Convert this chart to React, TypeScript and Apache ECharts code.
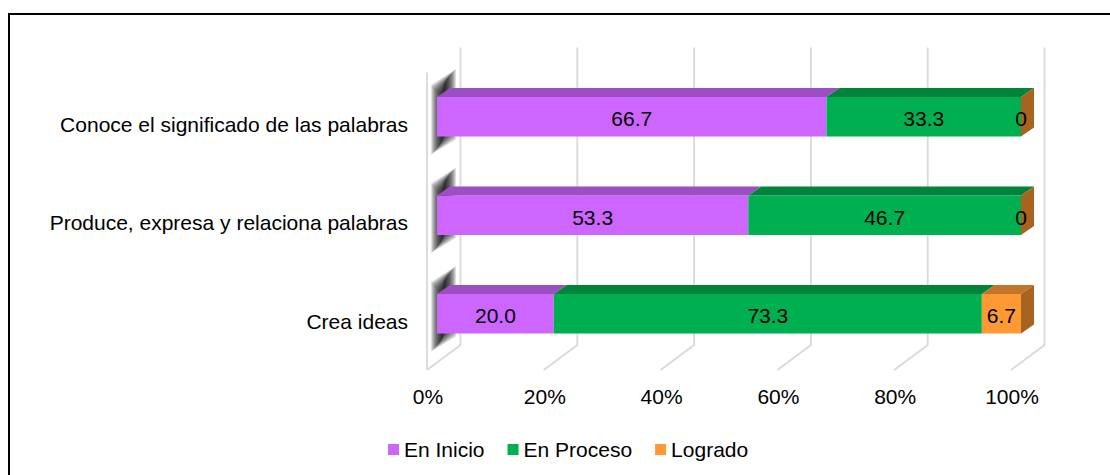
import React, { useEffect, useRef } from "react";
import * as echarts from "echarts";

const categories = [
  "Conoce el significado de las palabras",
  "Produce, expresa y relaciona palabras",
  "Crea ideas",
];
const seriesNames = ["En Inicio", "En Proceso", "Logrado"];
const enInicio = [66.7, 53.3, 20.0];
const enProceso = [33.3, 46.7, 73.3];
const logrado = [0, 0, 6.7];
const tickValues = [0, 20, 40, 60, 80, 100];

const FRONT = ["#CC66FF", "#00B050", "#FF9933"];
const TOP = ["#9B4FC3", "#00843C", "#C27528"];
const SIDE = ["#8A3FB0", "#006F31", "#A8631F"];
const FONT = "'Liberation Sans', Arial, sans-serif";

export default function App() {
  const ref = useRef<HTMLDivElement>(null);
  useEffect(() => {
    if (!ref.current) return;
    const chart = echarts.init(ref.current, undefined, { renderer: "svg" });
    const values = [enInicio, enProceso, logrado];
    const DX = 13;
    const DY = -9;

    const barSeries = values.map((vals, s) => {
      const data = vals.map((v, i) => {
        let start = 0;
        for (let k = 0; k < s; k++) start += values[k][i];
        return [i, start, start + v, v];
      });
      return {
        type: "custom",
        name: seriesNames[s],
        coordinateSystem: "cartesian2d",
        itemStyle: { color: FRONT[s] },
        encode: { x: [1, 2], y: 0 },
        data,
        renderItem: (params: any, api: any) => {
          const cat = api.value(0);
          const s0 = api.value(1);
          const s1 = api.value(2);
          const v = api.value(3);
          const p0 = api.coord([s0, cat]);
          const p1 = api.coord([s1, cat]);
          const band = api.size([0, 1])[1];
          const h = band * 0.4;
          const yt = p0[1] - h / 2;
          const yb = p0[1] + h / 2;
          const x0 = p0[0];
          const x1 = p1[0];
          const children: any[] = [
            {
              type: "rect",
              shape: { x: x0, y: yt, width: x1 - x0, height: h },
              style: { fill: FRONT[s] },
            },
            {
              type: "polygon",
              shape: {
                points: [
                  [x0, yt],
                  [x1, yt],
                  [x1 + DX, yt + DY],
                  [x0 + DX, yt + DY],
                ],
              },
              style: { fill: TOP[s] },
            },
          ];
          if (s === values.length - 1) {
            children.push({
              type: "polygon",
              shape: {
                points: [
                  [x1, yt],
                  [x1 + DX, yt + DY],
                  [x1 + DX, yb + DY],
                  [x1, yb],
                ],
              },
              style: { fill: SIDE[s] },
            });
          }
          children.push({
            type: "text",
            style: {
              text: v === 0 ? "0" : v.toFixed(1),
              x: (x0 + x1) / 2,
              y: p0[1] + 2,
              align: "center",
              verticalAlign: "middle",
              fontSize: 21,
              fontFamily: FONT,
              fill: "#000",
            },
          });
          return { type: "group", children };
        },
      };
    });

    const gridSeries = {
      type: "custom",
      coordinateSystem: "cartesian2d",
      encode: { x: 0 },
      silent: true,
      data: tickValues.map((t) => [t]),
      renderItem: (params: any, api: any) => {
        const v = api.value(0);
        const p = api.coord([v, 0]);
        const band = api.size([0, 1])[1];
        const gTop = p[1] - band / 2;
        const gBot = gTop + band * categories.length;
        const bx = p[0] + 23.5;
        const fx = p[0] - 10;
        const st = { stroke: "#D9D9D9", lineWidth: 1.8, fill: "none" };
        const children: any[] = [
          {
            type: "polyline",
            shape: {
              points: [
                [bx, gTop - 20],
                [bx, gBot - 18],
                [fx, gBot + 7],
              ],
            },
            style: st,
          },
        ];
        if (v === 0) {
          children.push({
            type: "line",
            shape: { x1: fx, y1: gTop + 5, x2: fx, y2: gBot + 7 },
            style: st,
          });
        }
        return { type: "group", children };
      },
    };

    const shadowSeries = {
      type: "custom",
      coordinateSystem: "cartesian2d",
      encode: { y: 0 },
      silent: true,
      data: categories.map((_, i) => [i, 0]),
      renderItem: (params: any, api: any) => {
        const cat = api.value(0);
        const p = api.coord([0, cat]);
        const band = api.size([0, 1])[1];
        const h = band * 0.4;
        const yt = p[1] - h / 2;
        const yb = p[1] + h / 2;
        const x0 = p[0];
        const children: any[] = [];
        for (let k = 0; k < 12; k++) {
          const d = k * 1;
          children.push({
            type: "polygon",
            shape: {
              points: [
                [x0 - 6 + d, yt - 12 + d],
                [x0 + 19 - d, yt - 28 + d],
                [x0 + 19 - d, yb + 3 - d],
                [x0 - 6 + d, yb + 18 - d],
              ],
            },
            style: { fill: "rgba(0,0,0,0.13)" },
          });
        }
        return { type: "group", children };
      },
    };

    chart.setOption({
      animation: false,
      backgroundColor: "#fff",
      graphic: [
        {
          type: "rect",
          shape: { x: 9, y: 14, width: 1300, height: 700 },
          style: { fill: "none", stroke: "#000", lineWidth: 2 },
          z: 100,
        },
      ],
      grid: { left: 437, right: 89, top: 67.5, height: 295.5 },
      xAxis: {
        type: "value",
        min: 0,
        max: 100,
        interval: 20,
        axisLine: { show: false },
        axisTick: { show: false },
        splitLine: { show: false },
        axisLabel: {
          formatter: "{value}%",
          fontSize: 21,
          fontFamily: FONT,
          color: "#000",
          margin: 23,
          padding: [0, 18, 0, 0],
        },
      },
      yAxis: {
        type: "category",
        inverse: true,
        data: categories,
        axisLine: { show: false },
        axisTick: { show: false },
        splitLine: { show: false },
        axisLabel: {
          fontSize: 21,
          fontFamily: FONT,
          color: "#000",
          margin: 29,
          verticalAlign: "top",
          lineHeight: 15,
        },
      },
      legend: {
        data: seriesNames,
        left: 383,
        top: 434,
        icon: "rect",
        itemWidth: 11,
        itemHeight: 11,
        itemGap: 23,
        textStyle: { fontSize: 21, fontFamily: FONT, color: "#000" },
      },
      series: [gridSeries, shadowSeries, ...barSeries],
    });
    return () => chart.dispose();
  }, []);
  return (
    <div
      ref={ref}
      style={{ position: "fixed", left: 0, top: 0, width: 1110, height: 475, background: "#fff" }}
    />
  );
}
